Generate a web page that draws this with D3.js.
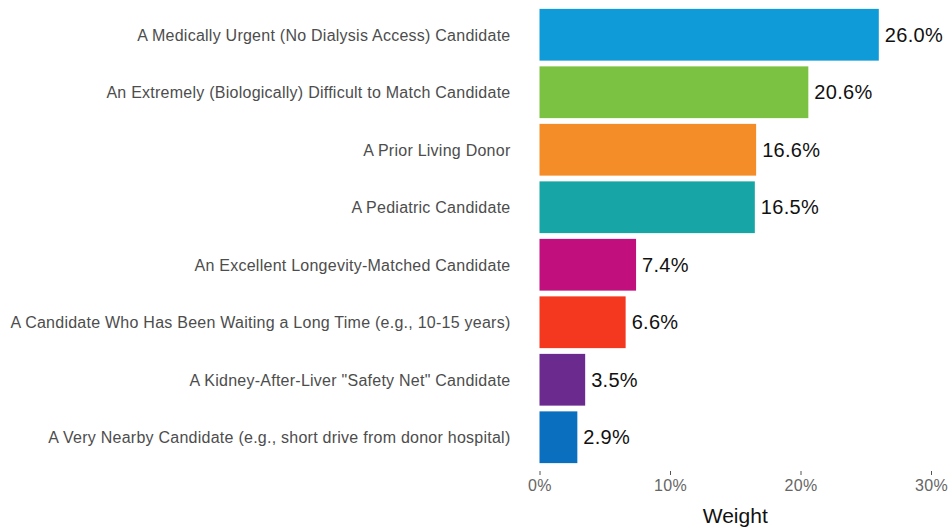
<!DOCTYPE html>
<html>
<head>
<meta charset="utf-8">
<script src="https://cdn.jsdelivr.net/npm/d3@7"></script>
<style>
  body { margin: 0; background: #fff; }
  svg { display: block; font-family: "Liberation Sans", Arial, sans-serif; }
</style>
</head>
<body>
<svg id="chart" width="950" height="531"></svg>
<script>
// categories top to bottom
const categories = [
  "A Medically Urgent (No Dialysis Access) Candidate",
  "An Extremely (Biologically) Difficult to Match Candidate",
  "A Prior Living Donor",
  "A Pediatric Candidate",
  "An Excellent Longevity-Matched Candidate",
  "A Candidate Who Has Been Waiting a Long Time (e.g., 10-15 years)",
  "A Kidney-After-Liver \"Safety Net\" Candidate",
  "A Very Nearby Candidate (e.g., short drive from donor hospital)"
];
const weights = [26.0, 20.6, 16.6, 16.5, 7.4, 6.6, 3.5, 2.9];
const barColors = ["#0f9ad8", "#7cc242", "#f48c27", "#17a6a5", "#c10f7e", "#f3381f", "#6b2a8e", "#0b6fc0"];
const xTicks = [0, 10, 20, 30];

const svg = d3.select("#chart");
const left = 539.5, right = 931;

const x = d3.scaleLinear().domain([0, 30]).range([left, right]);
const y = d3.scaleBand().domain(categories).range([6, 466]).paddingInner(0.1).paddingOuter(0.05);

// bars
svg.append("g").selectAll("rect")
  .data(categories)
  .join("rect")
  .attr("x", x(0))
  .attr("y", d => y(d))
  .attr("width", (d, i) => x(weights[i]) - x(0))
  .attr("height", y.bandwidth())
  .attr("fill", (d, i) => barColors[i]);

// value labels
svg.append("g").selectAll("text")
  .data(categories)
  .join("text")
  .attr("x", (d, i) => x(weights[i]) + 6)
  .attr("y", d => y(d) + y.bandwidth() / 2)
  .attr("dy", "0.36em")
  .style("font-size", "20px")
  .style("letter-spacing", "0.3px")
  .style("fill", "#111")
  .text((d, i) => weights[i].toFixed(1) + "%");

// category labels
const yAxis = svg.append("g")
  .attr("transform", `translate(${left - 29},0)`)
  .call(d3.axisLeft(y).tickSize(0).tickPadding(0));
yAxis.select(".domain").remove();
yAxis.selectAll("text")
  .attr("dy", "0.36em")
  .style("font-size", "16px")
  .style("letter-spacing", "0.25px")
  .style("fill", "#4d4d4d")
  .style("font-family", "'Liberation Sans', Arial, sans-serif");

// x axis
const xAxis = svg.append("g")
  .attr("transform", "translate(0,471)")
  .call(d3.axisBottom(x).tickValues(xTicks).tickSize(4).tickPadding(5).tickFormat(d => d + "%"));
xAxis.select(".domain").remove();
xAxis.selectAll("line").attr("stroke", "#555");
xAxis.selectAll("text")
  .style("font-size", "16px")
  .style("letter-spacing", "0.4px")
  .style("fill", "#666")
  .style("font-family", "'Liberation Sans', Arial, sans-serif");

// axis title
svg.append("text")
  .attr("x", (x(0) + x(30)) / 2)
  .attr("y", 523)
  .attr("text-anchor", "middle")
  .style("font-size", "21px")
  .style("fill", "#111")
  .text("Weight");
</script>
</body>
</html>
